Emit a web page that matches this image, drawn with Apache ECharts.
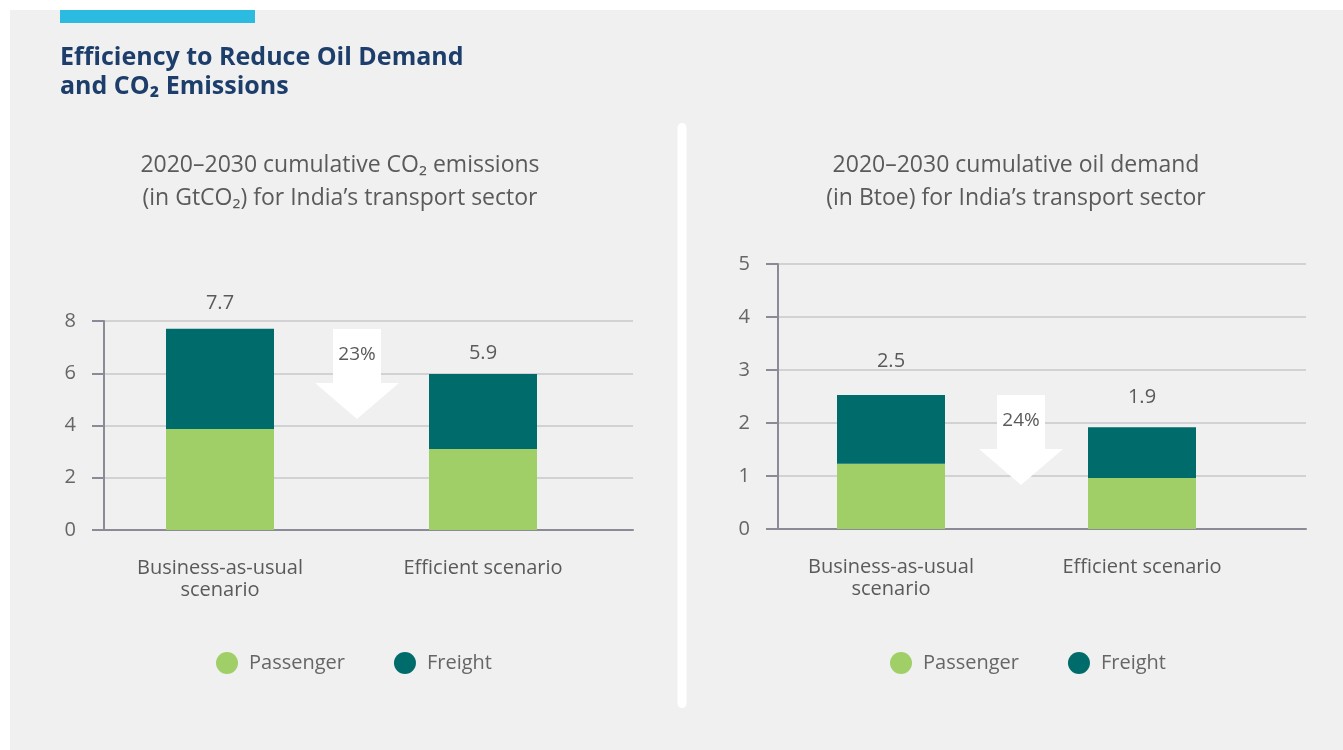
<!DOCTYPE html>
<html>
<head>
<meta charset="utf-8">
<script src="https://cdn.jsdelivr.net/npm/echarts@6/dist/echarts.min.js"></script>
<style>
  html, body { margin: 0; padding: 0; background: #fff; }
  #main { width: 1343px; height: 750px; }
</style>
</head>
<body>
<div id="main"></div>
<script>
// categories and values
const categories = ['Business-as-usual\nscenario', 'Efficient scenario']
const co2Passenger = [3.87, 3.1]
const co2Freight = [3.83, 2.87]
const co2Totals = ['7.7', '5.9']
const oilPassenger = [1.23, 0.96]
const oilFreight = [1.3, 0.96]
const oilTotals = ['2.5', '1.9']
const reductions = ['23%', '24%']

const FONT = '"Open Sans", Lato, sans-serif'
const passengerColor = '#a0cf67'
const freightColor = '#006b6b'
const axisColor = '#8c8a96'
const gridColor = '#c9c9cd'
const textColor = '#5a5a5a'

const chart = echarts.init(document.getElementById('main'))

// one panel = a frame grid (axis + split lines) and a bar grid (bars + category labels)
function frameAxes (gridIndex, max, interval) {
  return {
    x: {
      type: 'category',
      gridIndex,
      data: categories,
      axisLine: { lineStyle: { color: axisColor, width: 2 } },
      axisTick: { show: false },
      axisLabel: { show: false }
    },
    y: {
      type: 'value',
      gridIndex,
      min: 0,
      max,
      interval,
      axisLine: { show: true, lineStyle: { color: axisColor, width: 2 } },
      axisTick: { show: true, length: 12, lineStyle: { color: axisColor, width: 2 } },
      axisLabel: { margin: 28, fontSize: 20, color: '#666', fontFamily: FONT },
      splitLine: { lineStyle: { color: gridColor, width: 1.5 } }
    }
  }
}

function barAxes (gridIndex, max) {
  return {
    x: {
      type: 'category',
      gridIndex,
      data: categories,
      axisLine: { show: false },
      axisTick: { show: false },
      axisLabel: { margin: 27, fontSize: 20, lineHeight: 22, color: textColor, fontFamily: FONT }
    },
    y: { type: 'value', gridIndex, min: 0, max, show: false, splitLine: { show: false } }
  }
}

function barSeries (axisIndex, passenger, freight, totals, labelGaps) {
  return [
    {
      name: 'Passenger',
      type: 'bar',
      stack: 'total' + axisIndex,
      xAxisIndex: axisIndex,
      yAxisIndex: axisIndex,
      barWidth: 108,
      itemStyle: { color: passengerColor },
      data: passenger
    },
    {
      name: 'Freight',
      type: 'bar',
      stack: 'total' + axisIndex,
      xAxisIndex: axisIndex,
      yAxisIndex: axisIndex,
      barWidth: 108,
      itemStyle: { color: freightColor },
      data: freight.map((v, i) => ({
        value: v,
        label: {
          show: true,
          position: 'top',
          distance: labelGaps[i],
          formatter: totals[i],
          fontSize: 20,
          color: textColor,
          fontFamily: FONT
        }
      }))
    }
  ]
}

const f0 = frameAxes(0, 8, 2)
const b1 = barAxes(1, 8)
const f2 = frameAxes(2, 5, 1)
const b3 = barAxes(3, 5)

function legendAt (left) {
  return {
    left,
    top: 652,
    padding: 0,
    icon: 'circle',
    itemWidth: 34,
    itemHeight: 22,
    itemGap: 49,
    data: ['Passenger', 'Freight'],
    textStyle: { fontSize: 20, color: '#666', fontFamily: FONT }
  }
}

function subTitle (cx, text) {
  return {
    text,
    left: cx,
    top: 149,
    padding: 0,
    textAlign: 'center',
    textStyle: { fontSize: 23, fontWeight: 'normal', color: textColor, lineHeight: 33, fontFamily: FONT }
  }
}

// down arrow with the percentage inside it
function arrow (cx, top, label) {
  return [
    {
      type: 'polygon',
      z: 1,
      shape: {
        points: [
          [cx - 24, top], [cx + 24, top], [cx + 24, top + 54], [cx + 42, top + 54],
          [cx, top + 90], [cx - 42, top + 54], [cx - 24, top + 54]
        ]
      },
      style: { fill: '#ffffff' }
    },
    {
      type: 'text',
      z: 2,
      x: cx,
      y: top + 26,
      style: { text: label, fill: textColor, fontSize: 19, fontFamily: FONT, align: 'center', verticalAlign: 'middle' }
    }
  ]
}

const option = {
  backgroundColor: '#ffffff',
  animation: false,
  title: [
    {
      text: 'Efficiency to Reduce Oil Demand\nand CO₂ Emissions',
      left: 60,
      top: 43,
      padding: 0,
      textStyle: { fontSize: 25, fontWeight: 'bold', color: '#1d3e6a', lineHeight: 29, fontFamily: FONT }
    },
    subTitle(340, '2020–2030 cumulative CO₂ emissions\n(in GtCO₂) for India’s transport sector'),
    subTitle(1016, '2020–2030 cumulative oil demand\n(in Btoe) for India’s transport sector')
  ],
  legend: [legendAt(216), legendAt(890)],
  grid: [
    { left: 104, right: 710, top: 321, bottom: 220 },
    { left: 88.5, right: 728.5, top: 321, bottom: 220 },
    { left: 778, right: 37, top: 264, bottom: 221 },
    { left: 765.5, right: 75.5, top: 264, bottom: 221 }
  ],
  xAxis: [f0.x, b1.x, f2.x, b3.x],
  yAxis: [f0.y, b1.y, f2.y, b3.y],
  series: [
    ...barSeries(1, co2Passenger, co2Freight, co2Totals, [16, 11]),
    ...barSeries(3, oilPassenger, oilFreight, oilTotals, [24, 20])
  ],
  graphic: [
    { type: 'rect', z: -100, shape: { x: 10, y: 10, width: 1333, height: 740 }, style: { fill: '#f0f0f0' } },
    { type: 'rect', z: -90, shape: { x: 60, y: 10, width: 195, height: 13 }, style: { fill: '#2bbbe0' } },
    { type: 'rect', z: -90, shape: { x: 677.5, y: 123, width: 9, height: 585, r: 4.5 }, style: { fill: '#ffffff' } },
    ...arrow(357, 329, reductions[0]),
    ...arrow(1021, 395, reductions[1])
  ]
}

chart.setOption(option)
</script>
</body>
</html>
